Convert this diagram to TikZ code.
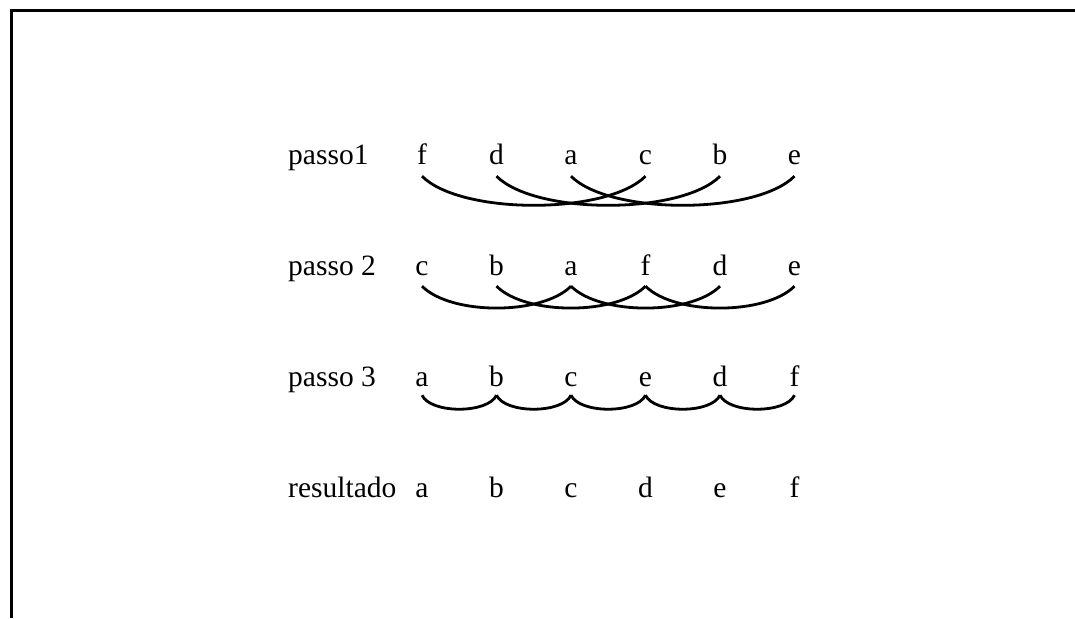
\documentclass[tikz,border=0pt]{standalone}
\usepackage{fontspec}
\setmainfont{Liberation Serif}
\begin{document}
\begin{tikzpicture}[x=1pt,y=1pt,
  lett/.style={anchor=base,inner sep=0pt,text height=0.68em,text depth=0pt,font=\fontsize{29.5}{32}\selectfont},
  lab/.style={anchor=base west,inner sep=0pt,font=\fontsize{29.5}{32}\selectfont},
  arcA/.style={line width=2.8pt,out=-45,in=-135,looseness=0.63},
  arcB/.style={line width=2.8pt,out=-45,in=-135,looseness=0.71},
  arcC/.style={line width=2.8pt,out=-65,in=-115,looseness=0.71},
  frame/.style={line width=3pt}]
\useasboundingbox (0,0) rectangle (1075,-618);
\coordinate (ftop) at (1075,-11);
\coordinate (fcorner) at (11,-11);
\coordinate (fbot) at (11,-618);
\draw[frame] (ftop) -- (fcorner) -- (fbot);
% labels
\node[lab] (l1) at (288,-164) {passo1};
\node[lab] (l2) at (288,-275) {passo 2};
\node[lab] (l3) at (288,-386) {passo 3};
\node[lab] (l4) at (288,-497) {resultado};
% rows
\foreach \t [count=\i] in {f,d,a,c,b,e}
  \node[lett] (r1c\i) at ({422+74.5*(\i-1)},-164) {\t};
\foreach \t [count=\i] in {c,b,a,f,d,e}
  \node[lett] (r2c\i) at ({422+74.5*(\i-1)},-275) {\t};
\foreach \t [count=\i] in {a,b,c,e,d,f}
  \node[lett] (r3c\i) at ({422+74.5*(\i-1)},-386) {\t};
\foreach \t [count=\i] in {a,b,c,d,e,f}
  \node[lett] (r4c\i) at ({422+74.5*(\i-1)},-497) {\t};
% arcs row 1 (gap 3)
\foreach \a/\b in {1/4,2/5,3/6}
  \draw[arcA] ([yshift=-12pt]r1c\a.south) to ([yshift=-12pt]r1c\b.south);
% arcs row 2 (gap 2)
\foreach \a/\b in {1/3,3/5,2/4,4/6}
  \draw[arcB] ([yshift=-11pt]r2c\a.south) to ([yshift=-11pt]r2c\b.south);
% arcs row 3 (gap 1)
\foreach \a/\b in {1/2,2/3,3/4,4/5,5/6}
  \draw[arcC] ([yshift=-9pt]r3c\a.south) to ([yshift=-9pt]r3c\b.south);
\end{tikzpicture}
\end{document}
